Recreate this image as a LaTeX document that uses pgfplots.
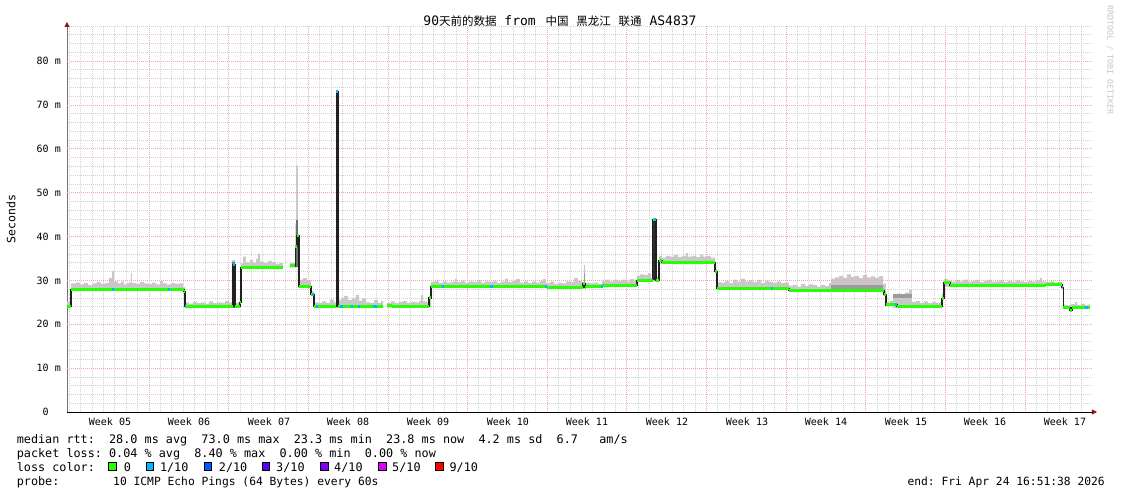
\documentclass[border=0pt]{standalone}
\usepackage{fontspec}
\setmainfont{DejaVu Sans Mono}
\newfontfamily\cjk{Noto Sans CJK SC}
\usepackage{pgfplots}
\usepackage{pgfplotstable}
\pgfplotsset{compat=1.18}
\usepgfplotslibrary{fillbetween}
\usetikzlibrary{arrows.meta}

\definecolor{loss0}{HTML}{26FF00}
\definecolor{loss1}{HTML}{00B8FF}
\definecolor{loss2}{HTML}{0059FF}
\definecolor{loss3}{HTML}{5E00FF}
\definecolor{loss4}{HTML}{7E00FF}
\definecolor{loss5}{HTML}{DD00FF}
\definecolor{loss9}{HTML}{FF0000}
\definecolor{smoke}{HTML}{C8C8C8}
\definecolor{smokemid}{HTML}{9C9C9C}
\definecolor{smokedeep}{HTML}{6E6E6E}
\definecolor{smokedark}{HTML}{2E2E2E}
\definecolor{medline}{HTML}{202020}
\definecolor{redgrid}{HTML}{F0A8A8}
\definecolor{greygrid}{HTML}{D2D2D2}
\definecolor{arrowc}{HTML}{8C1414}

% days since start, smoke top (hi) and bottom (lo) in ms
\pgfplotstableread{
x hi lo
0.00 25.2 23.7
0.26 25.5 23.7
0.35 29.3 27.7
0.79 29.5 27.7
1.14 29.1 27.7
1.49 29.4 27.7
1.84 29.0 27.7
2.28 29.3 27.7
2.63 29.6 27.7
2.98 29.2 27.7
3.33 29.4 27.7
3.68 30.5 27.7
3.95 32.1 27.7
4.12 29.8 27.7
4.47 29.3 27.7
4.74 29.7 27.7
5.00 29.1 27.7
5.26 29.5 27.7
5.61 31.6 27.7
5.70 29.4 27.7
6.05 29.2 27.7
6.40 29.6 27.7
6.75 29.3 27.7
7.11 29.2 27.7
7.46 29.5 27.7
7.81 29.1 27.7
8.16 29.9 27.7
8.42 29.3 27.7
8.77 29.1 27.7
9.12 29.4 27.7
9.47 29.2 27.7
9.82 29.3 27.7
10.18 28.5 27.2
10.35 25.0 23.7
10.70 24.7 23.7
11.05 25.1 23.7
11.40 24.8 23.7
11.75 25.0 23.7
12.11 24.7 23.7
12.46 25.2 23.7
12.81 24.8 23.7
13.16 25.0 23.7
13.51 24.9 23.7
13.86 25.3 23.7
14.21 25.0 23.7
14.47 34.6 23.7
14.74 24.9 23.7
15.00 25.1 23.7
15.18 25.3 23.7
15.26 33.9 32.6
15.44 35.4 32.6
15.70 34.1 32.6
16.05 34.6 32.6
16.32 34.0 32.6
16.58 34.9 32.6
16.75 36.1 32.6
16.93 34.3 32.6
17.28 34.0 32.6
17.63 34.4 32.6
17.98 34.1 32.6
18.33 33.8 32.6
18.68 34.0 32.6
18.95 34.0 32.6
}\smokeA

\pgfplotstableread{
x med
0.00 24.0
0.35 28.0
10.26 27.4
10.35 24.0
14.56 33.7
14.74 24.0
15.18 25.0
15.26 32.9
18.95 32.9
}\medA

\pgfplotstableread{
x hi lo
19.56 34.0 32.9
20.04 43.0 33.0
20.09 56.1 33.0
20.26 30.2 28.3
20.70 30.5 28.3
21.05 30.0 28.3
21.40 27.5 26.5
21.67 25.0 23.7
22.02 24.9 23.7
22.37 25.2 23.7
22.72 24.9 23.7
23.07 25.6 23.7
23.42 25.0 23.7
23.60 73.0 23.7
23.82 25.5 23.7
24.04 26.0 23.7
24.30 26.5 23.7
24.65 25.5 23.7
25.00 25.9 23.7
25.35 26.7 23.7
25.61 25.4 23.7
25.88 25.9 23.7
26.23 25.0 23.7
26.58 24.8 23.7
26.93 25.5 23.7
27.28 24.9 23.7
27.54 25.3 23.7
27.72 25.3 23.7
}\smokeB

\pgfplotstableread{
x med
19.56 33.3
20.04 37.7
20.18 40.3
20.35 28.6
21.40 26.8
21.67 24.0
23.64 73.0
23.77 24.0
27.72 24.0
}\medB

\pgfplotstableread{
x hi lo
28.07 24.8 23.8
28.42 25.2 23.8
28.77 24.9 23.8
29.12 25.1 23.8
29.47 25.3 23.8
29.82 24.9 23.8
30.18 25.1 23.8
30.53 25.0 23.8
30.88 25.3 23.8
31.05 26.7 23.8
31.23 25.2 23.8
31.58 25.0 23.8
31.75 26.2 24.0
31.93 29.6 28.3
32.28 29.9 28.3
32.63 29.4 28.3
32.98 29.8 28.3
33.33 29.5 28.3
33.68 29.7 28.3
34.04 30.4 28.3
34.21 29.6 28.3
34.56 29.9 28.3
34.91 29.4 28.3
35.26 29.8 28.3
35.61 29.6 28.3
35.96 30.0 28.3
36.32 29.5 28.3
36.67 29.8 28.3
37.02 29.6 28.3
37.37 29.9 28.3
37.72 29.4 28.3
38.07 29.7 28.3
38.42 30.4 28.3
38.68 29.6 28.3
39.04 29.9 28.3
39.39 30.3 28.3
39.74 29.5 28.3
40.09 29.8 28.3
40.44 29.4 28.3
40.79 29.7 28.3
41.14 29.5 28.3
41.49 29.9 28.3
41.75 30.3 28.3
42.02 29.3 28.1
42.37 29.7 28.1
42.72 29.2 28.1
43.07 29.5 28.1
43.42 29.3 28.1
43.77 29.8 28.1
44.12 29.6 28.1
44.47 30.5 28.1
44.82 29.9 28.1
45.18 29.6 28.1
45.35 33.5 28.1
45.44 29.5 28.3
45.88 29.3 28.3
46.23 29.5 28.3
46.58 29.2 28.3
46.93 29.9 28.6
47.28 30.2 28.6
47.63 29.8 28.6
47.98 30.1 28.6
48.33 29.9 28.6
48.68 30.2 28.6
49.04 29.8 28.6
49.39 30.3 28.6
49.74 30.0 28.6
50.00 31.0 29.7
50.26 31.4 29.7
50.61 31.2 29.7
50.96 31.6 29.7
51.23 30.5 29.7
51.36 44.0 29.7
51.62 31.0 29.7
51.93 35.6 33.8
52.19 35.2 33.8
52.54 35.6 33.8
52.89 35.4 33.8
53.25 35.8 33.8
53.60 35.3 33.8
53.95 35.6 33.8
54.30 36.2 33.8
54.47 35.4 33.8
54.82 35.6 33.8
55.18 35.3 33.8
55.53 35.9 33.8
55.79 35.4 33.8
56.14 35.6 33.8
56.49 35.2 33.8
56.84 32.6 31.7
57.02 29.6 27.8
57.37 29.5 27.8
57.72 29.9 27.8
58.07 29.4 27.8
58.42 30.2 27.8
58.77 29.7 27.8
59.12 30.4 27.8
59.47 29.8 27.8
59.82 30.0 27.8
60.18 29.6 27.8
60.53 30.1 27.8
60.88 29.4 27.8
61.23 29.9 27.8
61.58 29.6 27.8
61.93 29.5 27.8
62.28 29.8 27.8
62.63 29.4 27.8
62.98 29.5 27.8
63.33 28.8 27.4
63.68 29.0 27.4
64.04 28.6 27.4
64.39 29.2 27.4
64.74 28.7 27.4
65.09 29.1 27.4
65.44 28.9 27.4
65.79 28.6 27.4
66.14 29.0 27.4
66.49 28.7 27.4
66.84 29.4 27.4
67.02 30.4 27.4
67.37 30.7 27.4
67.72 31.0 27.4
68.07 30.6 27.4
68.42 31.4 27.4
68.77 30.8 27.4
69.12 31.0 27.4
69.47 30.5 27.4
69.82 31.2 27.4
70.18 30.7 27.4
70.53 30.9 27.4
70.88 30.6 27.4
71.23 31.0 27.4
71.58 29.2 26.4
71.84 25.0 24.1
72.19 25.3 24.1
72.46 26.5 23.7
72.81 27.0 23.7
73.16 26.6 23.7
73.51 27.2 23.7
73.86 27.8 23.7
74.12 25.1 23.7
74.47 25.3 23.7
74.82 24.9 23.7
75.18 25.2 23.7
75.53 24.8 23.7
75.88 25.1 23.7
76.23 24.9 23.7
76.58 25.0 23.7
76.75 27.0 25.5
76.93 30.3 28.5
77.28 30.0 28.5
77.63 29.7 28.5
77.98 30.1 28.5
78.33 29.8 28.5
78.68 30.2 28.5
79.04 29.7 28.5
79.39 29.9 28.5
79.74 30.1 28.5
80.09 29.6 28.5
80.44 29.9 28.5
80.79 30.1 28.5
81.14 29.7 28.5
81.49 29.8 28.5
81.84 30.0 28.5
82.19 29.6 28.5
82.54 29.9 28.5
82.89 29.7 28.5
83.25 30.0 28.5
83.60 29.8 28.5
83.95 29.6 28.5
84.30 29.9 28.5
84.65 29.7 28.5
85.00 30.0 28.5
85.35 30.6 28.5
85.53 29.8 28.5
85.88 29.6 28.8
86.23 29.8 28.8
86.58 29.5 28.8
86.93 29.7 28.8
87.28 29.0 28.0
87.41 24.5 23.5
87.72 24.3 23.5
88.07 24.6 23.5
88.42 25.1 23.5
88.60 24.4 23.5
88.95 24.6 23.5
89.30 24.3 23.5
89.56 24.5 23.5
89.74 24.5 23.5
}\smokeC

\pgfplotstableread{
x med
28.07 24.2
28.51 24.0
31.75 26.0
31.93 28.6
42.11 28.4
45.26 29.2
45.44 28.3
45.53 28.6
46.93 28.9
50.00 30.0
51.36 43.9
51.67 30.0
51.93 34.5
52.19 34.1
56.84 32.0
57.02 28.1
63.33 27.7
71.67 26.7
71.84 24.4
72.81 24.0
76.75 25.9
76.93 29.6
77.46 28.8
85.88 29.1
87.28 28.3
87.41 23.8
87.98 23.2
88.16 23.8
89.74 23.8
}\medC

\begin{document}
\frenchspacing
\begin{tikzpicture}
\begin{axis}[
    scale only axis,
    width=1026bp, height=386bp,
    xmin=0, xmax=90, ymin=0, ymax=88,
    axis lines=left,
    x axis line style={black, line width=0.8bp, -{Triangle[length=5bp,width=5bp,color=arrowc]}, shorten >=-4bp},
    y axis line style={black!55, line width=0.9bp, -{Triangle[length=5bp,width=5bp,color=arrowc]}, shorten >=-4bp},
    % week labels
    xtick={3.77,10.70,17.72,24.65,31.67,38.68,45.61,52.63,59.65,66.58,73.60,80.53,87.54},
    xticklabels={Week 05,Week 06,Week 07,Week 08,Week 09,Week 10,Week 11,Week 12,Week 13,Week 14,Week 15,Week 16,Week 17},
    xmajorgrids=false,
    % days (grey grid)
    minor xtick={0.20,1.20,2.20,3.20,4.20,5.19,6.19,
      8.19,9.19,10.18,11.18,12.18,13.18,
      15.17,16.17,17.17,18.17,19.17,20.16,
      22.16,23.16,24.16,25.15,26.15,27.15,
      29.15,30.14,31.14,32.14,33.14,34.14,
      36.13,37.13,38.13,39.13,40.12,41.12,
      43.12,44.12,45.11,46.11,47.11,48.11,
      50.10,51.10,52.10,53.10,54.10,55.09,
      57.09,58.09,59.09,60.08,61.08,62.08,
      64.08,65.07,66.07,67.07,68.07,69.07,
      71.06,72.06,73.06,74.06,75.05,76.05,
      78.05,79.04,80.04,81.04,82.04,83.04,
      85.03,86.03,87.03,88.03,89.02},
    xminorgrids=true,
    ytick={0,10,...,80},
    yticklabels={0\phantom{~m},10 m,20 m,30 m,40 m,50 m,60 m,70 m,80 m},
    minor ytick={2,4,6,8,12,14,16,18,22,24,26,28,32,34,36,38,42,44,46,48,
      52,54,56,58,62,64,66,68,72,74,76,78,82,84,86,88},
    ymajorgrids=false, yminorgrids=true,
    minor grid style={greygrid, dash pattern=on 1bp off 1bp, line width=0.8bp},
    tick align=outside,
    major tick length=0pt, minor tick length=0pt,
    tick label style={font=\fontsize{10bp}{12bp}\selectfont},
    yticklabel style={anchor=east, inner sep=0pt, xshift=-6bp},
    xticklabel style={anchor=base, inner sep=0pt, yshift=-13bp},
    /pgf/number format/assume math mode=true,
]

% red grid: week boundaries and every 10 ms
\pgfplotsinvokeforeach{7.19,14.18,21.16,28.15,35.13,42.12,49.11,56.09,63.08,70.06,77.05,84.04}{
  \draw[redgrid, dash pattern=on 1bp off 1bp, line width=0.8bp] (axis cs:#1,88) -- (axis cs:#1,0) -- ++(0pt,-3bp);
}
\pgfplotsinvokeforeach{10,20,...,80}{
  \draw[redgrid, dash pattern=on 1bp off 1bp, line width=0.8bp] (axis cs:0,#1) -- (axis cs:90,#1);
  \draw[black!70, line width=0.6bp] (axis cs:0,#1) -- ++(-2.5bp,0pt);
}
\draw[black!70, line width=0.6bp] (axis cs:0,0) -- ++(-2.5bp,0pt);

% smoke
\addplot[name path=Ahi, draw=none, const plot] table[y=hi] {\smokeA};
\addplot[name path=Alo, draw=none, const plot] table[y=lo] {\smokeA};
\addplot[smoke] fill between[of=Ahi and Alo];
\addplot[name path=Bhi, draw=none, const plot] table[y=hi] {\smokeB};
\addplot[name path=Blo, draw=none, const plot] table[y=lo] {\smokeB};
\addplot[smoke] fill between[of=Bhi and Blo];
\addplot[name path=Chi, draw=none, const plot] table[y=hi] {\smokeC};
\addplot[name path=Clo, draw=none, const plot] table[y=lo] {\smokeC};
\addplot[smoke] fill between[of=Chi and Clo];

% denser smoke
\addplot[draw=none, fill=smokemid] coordinates {(67.02,28.1) (67.02,28.9) (71.58,28.9) (71.58,28.1)};
\addplot[draw=none, fill=smokemid] coordinates {(72.46,25.9) (72.46,26.8) (74.12,26.8) (74.12,25.9)};
\addplot[draw=none, fill=smokemid] coordinates {(45.35,28.3) (45.35,31.6) (45.44,31.6) (45.44,28.3)};
\addplot[draw=none, fill=smokedeep] coordinates {(14.47,23.8) (14.47,34.2) (14.74,34.2) (14.74,23.8)};
\addplot[draw=none, fill=smokedeep] coordinates {(20.09,33.0) (20.09,43.8) (20.26,43.8) (20.26,33.0)};
\addplot[draw=none, fill=smokedark] coordinates {(23.60,24.0) (23.60,72.6) (23.82,72.6) (23.82,24.0)};
\addplot[draw=none, fill=smokedark] coordinates {(51.36,30.0) (51.36,43.6) (51.62,43.6) (51.62,30.0)};

% median rtt
\addplot[medline, line width=1.2bp, const plot] table[y=med] {\medA};
\addplot[medline, line width=1.2bp, const plot] table[y=med] {\medB};
\addplot[medline, line width=1.2bp, const plot] table[y=med] {\medC};
\addplot[loss0, line width=3bp, jump mark left] table[y=med] {\medA};
\addplot[loss0, line width=3bp, jump mark left] table[y=med] {\medB};
\addplot[loss0, line width=3bp, jump mark left] table[y=med] {\medC};

% samples with 1/10 loss
\addplot[loss1, line width=3bp, unbounded coords=jump] coordinates {
(3.95,28.0) (4.12,28.0) (4.12,nan)
(8.86,28.0) (9.04,28.0) (9.04,nan)
(10.35,24.0) (10.48,24.0) (10.48,nan)
(14.56,33.7) (14.74,33.7) (14.74,nan)
(21.49,26.8) (21.67,26.8) (21.67,nan)
(21.84,24.0) (22.02,24.0) (22.02,nan)
(23.64,73.0) (23.77,73.0) (23.77,nan)
(23.95,24.0) (24.21,24.0) (24.21,nan)
(24.91,24.0) (25.09,24.0) (25.09,nan)
(25.53,24.0) (25.70,24.0) (25.70,nan)
(26.84,24.0) (27.19,24.0) (27.19,nan)
(32.89,28.6) (33.07,28.6) (33.07,nan)
(37.11,28.6) (37.37,28.6) (37.37,nan)
(41.93,28.6) (42.11,28.6) (42.11,nan)
(46.84,28.6) (47.02,28.6) (47.02,nan)
(51.49,43.9) (51.67,43.9) (51.67,nan)
(61.75,28.1) (61.93,28.1) (61.93,nan)
(72.63,24.4) (72.81,24.4) (72.81,nan)
(87.28,28.3) (87.41,28.3) (87.41,nan)
(89.30,23.8) (89.56,23.8)
};
\end{axis}

% title, labels and legend
\node[anchor=base, inner sep=0pt, font=\fontsize{13bp}{15bp}\selectfont] at (493bp,386bp)
  {90{\cjk\fontsize{11.5bp}{15bp}\selectfont 天前的数据}~from~\hspace{2bp}{\cjk\fontsize{11.5bp}{15bp}\selectfont 中国}~{\cjk\fontsize{11.5bp}{15bp}\selectfont 黑龙江}~{\cjk\fontsize{11.5bp}{15bp}\selectfont 联通}~AS4837};
\node[rotate=90, inner sep=0pt, font=\fontsize{11.5bp}{14bp}\selectfont] at (-56bp,193bp) {Seconds};
\node[rotate=-90, inner sep=0pt, text=black!22, font=\fontsize{8.3bp}{10bp}\selectfont] at (1043bp,352bp) {RRDTOOL / TOBI OETIKER};

\begin{scope}[every node/.style={anchor=base west, inner sep=0pt, font=\fontsize{11.8bp}{14bp}\selectfont}]
\node at (-50.4bp,-31bp) {median rtt:~ 28.0 ms avg~ 73.0 ms max~ 23.3 ms min~ 23.8 ms now~ 4.2 ms sd~ 6.7~~ am/s};
\node at (-50.4bp,-45bp) {packet loss: 0.04 \% avg~ 8.40 \% max~ 0.00 \% min~ 0.00 \% now};
\node at (-50.4bp,-59bp) {loss color:};
\node at (-50.4bp,-73bp) {probe:};
\node[font=\fontsize{11.3bp}{14bp}\selectfont] at (46bp,-73bp) {10 ICMP Echo Pings (64 Bytes) every 60s};
\node[anchor=base east, font=\fontsize{11.3bp}{14bp}\selectfont] at (1038bp,-73bp) {end: Fri Apr 24 16:51:38 2026};
\foreach \bx/\lx/\c/\t in {41.7/56.6/loss0/0, 79.1/92.8/loss1/1\slash 10, 137.1/151.7/loss2/2\slash 10,
    195.2/209/loss3/3\slash 10, 253.3/267/loss4/4\slash 10, 311.4/325/loss5/5\slash 10, 368.7/382.4/loss9/9\slash 10}{
  \filldraw[fill=\c, draw=black, line width=0.6bp] (\bx bp,-58.5bp) rectangle ++(7.5bp,8bp);
  \node at (\lx bp,-59bp) {\t};
}
\end{scope}

\path[use as bounding box] (-67bp,-82bp) rectangle (1054bp,412bp);
\end{tikzpicture}
\end{document}
